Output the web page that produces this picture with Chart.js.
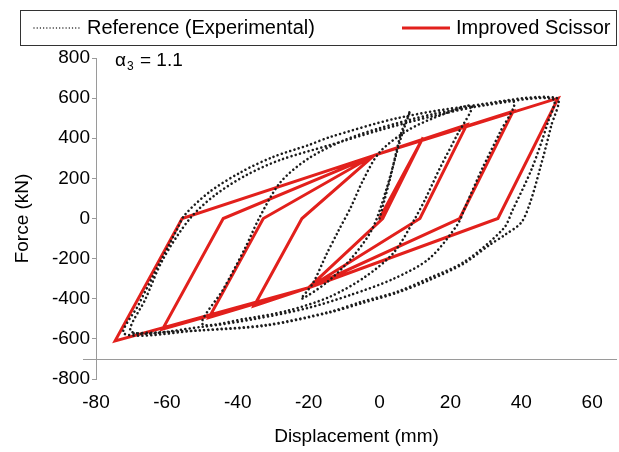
<!DOCTYPE html>
<html>
<head>
<meta charset="utf-8">
<script src="https://cdn.jsdelivr.net/npm/chart.js@4.4.1/dist/chart.umd.min.js"></script>
<style>
  html, body { margin: 0; padding: 0; background: #fff; }
  #wrap { width: 619px; height: 452px; }
</style>
</head>
<body>
<div id="wrap"><canvas id="hysteresis" width="619" height="452"></canvas></div>
<script>
// Scissor model: bilinear branches, one loop per displacement amplitude
const modelDisp  = [0, 12.3, 0.9, -20, -35.4, -21.9, -1.5, 24.6, 11.4, -20, -48.1, -32.8, -1.5, 37.7, 22.6, -20, -61.2, -44.1, -1.5, 50.4, 33.4, -20, -74.6, -55.7, -1.5];
const modelForce = [0, 404, 0, -345, -436, 0, 315, 467, 0, -345, -493, 0, 315, 534, 0, -345, -551, 0, 315, 600, 0, -345, -610, 0, 315];

// Test record (experimental hysteresis), one row per half cycle
const testDisp = [
  0, 3, 6, 8.6,
  6, 2, -2, -8, -15, -22,
  -18.8, -15, -11.7, -8, -4.6, 0, 8, 18, 26,
  22, 17, 13, 10, 4, -4, -14, -26, -38, -50,
  -44, -38, -34, -28, -20, -10, 0, 15, 30, 38,
  34, 29, 24, 22, 14, 4, -8, -20, -35, -50, -70,
  -66, -61, -53.5, -46.4, -37.5, -28, -14, 0, 15, 30, 49,
  47.5, 43, 37.5, 35, 24, 14, 5, -5, -14, -32, -50, -72,
  -68, -62, -57, -55, -48, -39, -30, -20, -14, 5, 25, 50,
  48.4, 45.3, 42.5, 40, 35.5, 31.2, 23.7, 14.3, 4.9, -4.6, -14, -31.8, -50.6, -69.6
];
const testForce = [
  0, 200, 420, 535,
  400, 150, -50, -200, -320, -400,
  -323, -180, -65, 60, 192, 330, 440, 520, 560,
  420, 250, 100, 0, -170, -290, -390, -460, -500, -525,
  -350, -150, 0, 180, 300, 390, 450, 520, 565, 580,
  430, 250, 50, -30, -200, -300, -380, -445, -500, -540, -565,
  -400, -200, 0, 117, 217, 292, 366, 440, 510, 565, 595,
  480, 250, 40, -50, -215, -297, -365, -415, -465, -531, -556, -575,
  -430, -220, -50, 17, 132, 232, 307, 366, 406, 500, 560, 600,
  460, 250, 80, -20, -80, -130, -225, -305, -370, -420, -468, -533, -558, -573
];

const xTicks = [-80, -60, -40, -20, 0, 20, 40, 60];
const yTicks = [-800, -600, -400, -200, 0, 200, 400, 600, 800];
const baseForce = -700;

const FONT = "'Liberation Sans', Arial, sans-serif";
const RED = '#e2201c';
const DOTS = '#1c1c1c';
const AXIS_GREY = '#9a9a9a';

const toPoints = (xs, ys) => xs.map((x, i) => ({ x: x, y: ys[i] }));

// horizontal reference line at baseForce, running a little past the y axis
const baseLine = {
  id: 'baseLine',
  beforeDatasetsDraw(chart) {
    const { ctx, chartArea, scales } = chart;
    const y = Math.round(scales.y.getPixelForValue(baseForce)) + 0.5;
    ctx.save();
    ctx.strokeStyle = AXIS_GREY;
    ctx.lineWidth = 1;
    ctx.beginPath();
    ctx.moveTo(chartArea.left - 13, y);
    ctx.lineTo(chartArea.right, y);
    ctx.stroke();
    ctx.restore();
  }
};

// boxed legend across the top + the alpha annotation
const legendBox = {
  id: 'legendBox',
  afterDraw(chart) {
    const { ctx, chartArea } = chart;
    ctx.save();
    ctx.strokeStyle = '#333';
    ctx.lineWidth = 1;
    ctx.strokeRect(20.5, 10.5, 596, 35);

    const midY = 28;
    ctx.lineCap = 'round';
    ctx.strokeStyle = DOTS;
    ctx.lineWidth = 1.4;
    ctx.setLineDash([0.01, 3.2]);
    ctx.beginPath();
    ctx.moveTo(34, midY);
    ctx.lineTo(79, midY);
    ctx.stroke();

    ctx.setLineDash([]);
    ctx.lineCap = 'butt';
    ctx.strokeStyle = RED;
    ctx.lineWidth = 3;
    ctx.beginPath();
    ctx.moveTo(402, midY);
    ctx.lineTo(450, midY);
    ctx.stroke();

    ctx.fillStyle = '#000';
    ctx.font = '20px ' + FONT;
    ctx.textBaseline = 'middle';
    ctx.textAlign = 'left';
    ctx.fillText('Reference (Experimental)', 87, midY);
    ctx.fillText('Improved Scissor', 456, midY);

    // α₃ = 1.1
    const ax = chartArea.left + 19;
    const ay = chartArea.top + 3;
    ctx.font = '19px ' + FONT;
    ctx.fillText('α', ax, ay);
    const aw = ctx.measureText('α').width;
    ctx.font = '12px ' + FONT;
    ctx.fillText('3', ax + aw + 1, ay + 6);
    const sw = ctx.measureText('3').width;
    ctx.font = '19px ' + FONT;
    ctx.fillText(' = 1.1', ax + aw + sw + 2, ay);
    ctx.restore();
  }
};

new Chart(document.getElementById('hysteresis'), {
  type: 'scatter',
  data: {
    datasets: [
      {
        label: 'Reference (Experimental)',
        data: toPoints(testDisp, testForce),
        showLine: true,
        borderColor: DOTS,
        borderWidth: 2.6,
        borderDash: [0.01, 4.4],
        borderCapStyle: 'round',
        tension: 0.3,
        pointRadius: 0,
        fill: false
      },
      {
        label: 'Improved Scissor',
        data: toPoints(modelDisp, modelForce),
        showLine: true,
        borderColor: RED,
        borderWidth: 3,
        tension: 0,
        pointRadius: 0,
        fill: false
      }
    ]
  },
  options: {
    responsive: false,
    animation: false,
    layout: { padding: { top: 58, right: 2, left: 0, bottom: 0 } },
    plugins: {
      legend: { display: false },
      tooltip: { enabled: false }
    },
    scales: {
      x: {
        type: 'linear',
        min: -80,
        max: 67,
        grid: { display: false, drawTicks: false },
        border: { display: false },
        afterBuildTicks: (axis) => { axis.ticks = xTicks.map(v => ({ value: v })); },
        afterFit: (axis) => { axis.height = 73; },
        ticks: { color: '#000', font: { family: FONT, size: 19 }, padding: 12, maxRotation: 0 },
        title: { display: true, text: 'Displacement (mm)', color: '#000', font: { family: FONT, size: 19 }, padding: { bottom: 4 } }
      },
      y: {
        type: 'linear',
        min: -800,
        max: 800,
        afterBuildTicks: (axis) => { axis.ticks = yTicks.map(v => ({ value: v })); },
        afterFit: (axis) => { axis.width = 96; },
        grid: { drawOnChartArea: false, tickLength: 4, color: AXIS_GREY },
        border: { color: AXIS_GREY },
        ticks: { color: '#000', font: { family: FONT, size: 19 }, padding: 2 },
        title: { display: true, text: 'Force (kN)', color: '#000', font: { family: FONT, size: 19 }, padding: { top: 11 } }
      }
    }
  },
  plugins: [baseLine, legendBox]
});
</script>
</body>
</html>
